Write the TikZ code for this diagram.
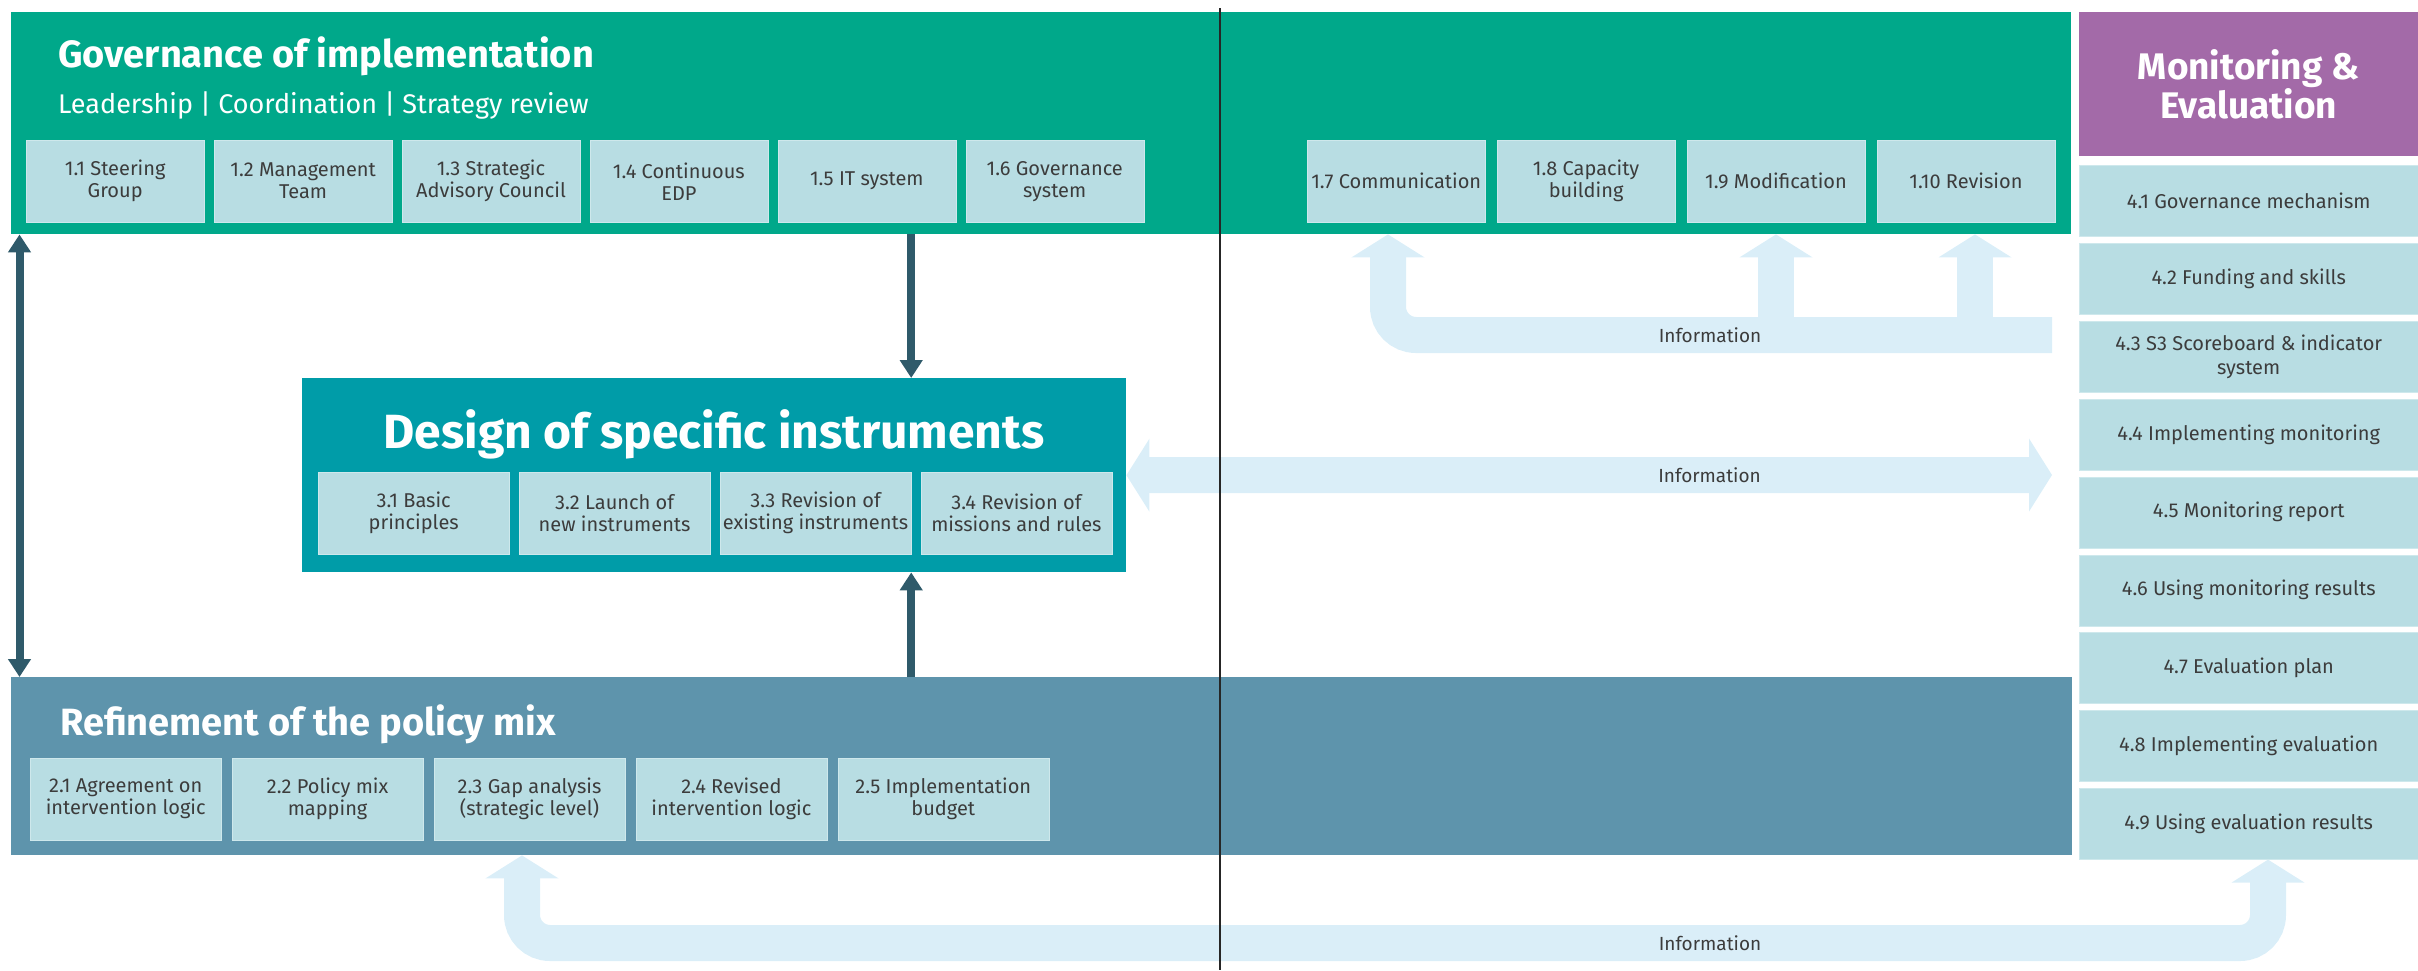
\documentclass[tikz,border=0pt]{standalone}
\usepackage{fontspec}
\setmainfont{Fira Sans}
\usepackage{tikz}
\usetikzlibrary{positioning,arrows.meta}
\definecolor{govgreen}{RGB}{0,168,138}
\definecolor{desteal}{RGB}{0,156,168}
\definecolor{refblue}{RGB}{94,148,172}
\definecolor{monpurple}{RGB}{163,106,168}
\definecolor{subfill}{RGB}{184,221,227}
\definecolor{subedge}{RGB}{206,232,236}
\definecolor{darkarrow}{RGB}{47,90,106}
\definecolor{infoblue}{RGB}{218,238,248}
\definecolor{txt}{RGB}{60,60,60}
\tikzstyle{bandbox}=[rectangle, inner sep=0pt, anchor=north west]
\tikzstyle{bandtitle}=[text=white, inner sep=0pt, anchor=base west, font=\bfseries\fontsize{38}{0}\selectfont]
\tikzstyle{subbox}=[rectangle, fill=subfill, draw=subedge, text=txt, align=center, inner sep=0pt, minimum width=178pt, minimum height=82pt, font=\fontsize{20}{22}\selectfont]
\tikzstyle{subboxwide}=[subbox, minimum width=191pt]
\tikzstyle{colbox}=[subbox, minimum width=339pt, minimum height=71pt, font=\fontsize{20}{24}\selectfont]
\tikzstyle{linkarrow}=[draw=darkarrow, line width=8pt, >={Triangle[length=18pt,width=22pt]}]
\tikzstyle{infoarrow}=[draw=infoblue, line width=36pt, >={Triangle[length=23pt,width=72pt]}]
\tikzstyle{infolabel}=[text=txt, font=\fontsize{19}{0}\selectfont]
\tikzstyle{divider}=[draw=black!85, line width=1.3pt]

\begin{document}
\begin{tikzpicture}[x=1pt, y=-1pt]
\useasboundingbox (0,0) rectangle (2418,970);
% the three bands and the design block
\node[bandbox, fill=govgreen, minimum width=2060pt, minimum height=222pt] (gov) at (11,12) {};
\node[bandbox, fill=refblue, minimum width=2061pt, minimum height=178pt] (ref) at (11,677) {};
\node[bandbox, fill=desteal, minimum width=824pt, minimum height=194pt] (des) at (302,378) {};
\node[bandbox, fill=monpurple, minimum width=339pt, minimum height=144pt, text=white, align=center, font=\bfseries\fontsize{37}{38}\selectfont] (mon) at (2079,12) {Monitoring \&\\Evaluation};

\node[bandtitle] (govt) at (58,67) {Governance of implementation};
\node[bandtitle, font=\fontsize{27}{0}\selectfont] (govs) at (58,113) {Leadership | Coordination | Strategy review};
\node[bandtitle] (reft) at (60,735) {Refinement of the policy mix};
\node[bandtitle, anchor=base, font=\bfseries\fontsize{48}{0}\selectfont] (dest) at (714,448) {Design of specific instruments};

% governance steps
\node[subbox, anchor=north west] (g1) at (26,140) {1.1 Steering\\Group};
\node[subbox, right=9.5pt of g1] (g2) {1.2 Management\\Team};
\node[subbox, right=9.5pt of g2] (g3) {1.3 Strategic\\Advisory Council};
\node[subbox, right=9.5pt of g3] (g4) {1.4 Continuous\\EDP};
\node[subbox, right=9.5pt of g4] (g5) {1.5 IT system};
\node[subbox, right=9.5pt of g5] (g6) {1.6 Governance\\system};
\node[subbox, anchor=north west] (g7) at (1307,140) {1.7 Communication};
\node[subbox, right=11.5pt of g7] (g8) {1.8 Capacity\\building};
\node[subbox, right=11.5pt of g8] (g9) {1.9 Modification};
\node[subbox, right=11.5pt of g9] (g10) {1.10 Revision};

% design steps
\node[subboxwide, anchor=north west] (d1) at (318,472) {3.1 Basic\\principles};
\node[subboxwide, right=9.5pt of d1] (d2) {3.2 Launch of\\new instruments};
\node[subboxwide, right=9.5pt of d2] (d3) {3.3 Revision of\\existing instruments};
\node[subboxwide, right=9.5pt of d3] (d4) {3.4 Revision of\\missions and rules};

% refinement steps
\node[subboxwide, anchor=north west] (r1) at (30,758) {2.1 Agreement on\\intervention logic};
\node[subboxwide, right=10.5pt of r1] (r2) {2.2 Policy mix\\mapping};
\node[subboxwide, right=10.5pt of r2] (r3) {2.3 Gap analysis\\(strategic level)};
\node[subboxwide, right=10.5pt of r3] (r4) {2.4 Revised\\intervention logic};
\node[subboxwide, right=10.5pt of r4, minimum width=211pt] (r5) {2.5 Implementation\\budget};

% monitoring and evaluation column
\node[colbox, anchor=north west] (m1) at (2079,165) {4.1 Governance mechanism};
\node[colbox, below=6.5pt of m1] (m2) {4.2 Funding and skills};
\node[colbox, below=6.5pt of m2] (m3) {4.3 S3 Scoreboard \& indicator\\system};
\node[colbox, below=6.5pt of m3] (m4) {4.4 Implementing monitoring};
\node[colbox, below=6.5pt of m4] (m5) {4.5 Monitoring report};
\node[colbox, below=6.5pt of m5] (m6) {4.6 Using monitoring results};
\node[colbox, below=6.5pt of m6] (m7) {4.7 Evaluation plan};
\node[colbox, below=6.5pt of m7] (m8) {4.8 Implementing evaluation};
\node[colbox, below=6.5pt of m8] (m9) {4.9 Using evaluation results};

% dark links
\draw[linkarrow, <->] ([xshift=8.5pt]gov.south west) -- ([xshift=8.5pt]ref.north west);
\draw[linkarrow, ->] (gov.south -| d3.east) -- (des.north -| d3.east);
\draw[linkarrow, ->] (ref.north -| d3.east) -- (des.south -| d3.east);

% information flows
\coordinate (i1) at (2052,335);
\coordinate (i2) at (2052,475);
\coordinate (t7) at (1388,300);
\coordinate (t10) at (1975,300);
\coordinate (b0) at (522,900);
\coordinate (b1) at (1710,943);
\coordinate (b2) at (2268,900);
\draw[infoarrow, ->] (i1 -| g9) -- (gov.south -| g9);
\draw[infoarrow, ->] (i1 -| t10) -- (gov.south -| t10);
\draw[infoarrow, ->, rounded corners=28pt] (i1) -| (t7 |- gov.south);
\node[infolabel] (il1) at (i1 -| b1) {Information};
\draw[infoarrow, <->] (des.east) -- node[infolabel, pos=0.63] {Information} (i2);
\draw[infoarrow, <->, rounded corners=28pt] (ref.south -| b0) |- (b1) -| (m9.south -| b2);
\node[infolabel] (il3) at (b1) {Information};

\draw[divider] (1220,8) -- (1220,970);
\end{tikzpicture}
\end{document}
